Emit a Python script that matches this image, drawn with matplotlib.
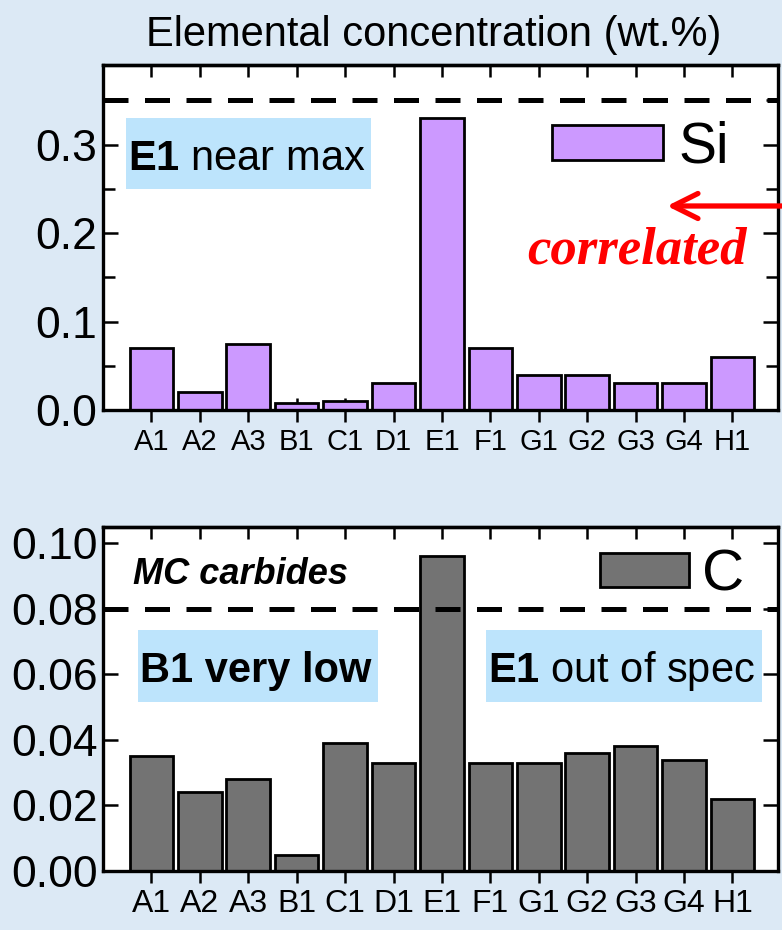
import matplotlib
matplotlib.use('Agg')
import matplotlib.pyplot as plt
from matplotlib.patches import Rectangle
from matplotlib.ticker import FormatStrFormatter, MultipleLocator

samples = ['A1', 'A2', 'A3', 'B1', 'C1', 'D1', 'E1', 'F1', 'G1', 'G2', 'G3', 'G4', 'H1']
si_values = [0.070, 0.020, 0.075, 0.008, 0.010, 0.030, 0.330, 0.070, 0.040, 0.040, 0.030, 0.030, 0.060]
c_values = [0.035, 0.024, 0.028, 0.005, 0.039, 0.033, 0.096, 0.033, 0.033, 0.036, 0.038, 0.034, 0.022]
si_limit = 0.35
c_limit = 0.08
si_ticks = [0.0, 0.1, 0.2, 0.3]
c_ticks = [0.00, 0.02, 0.04, 0.06, 0.08, 0.10]

BG = '#dce9f5'
NOTE_BG = '#bde4fc'
SI_COLOR = '#cc99ff'
C_COLOR = '#737373'

plt.rcParams['font.family'] = ['Liberation Sans', 'DejaVu Sans']
plt.rcParams['mathtext.fontset'] = 'custom'
plt.rcParams['mathtext.rm'] = 'Liberation Sans'
plt.rcParams['mathtext.bf'] = 'Liberation Sans:bold'

fig = plt.figure(figsize=(7.82, 9.30), dpi=100, facecolor=BG)
ax_si = fig.add_axes([0.1317, 0.5591, 0.8632, 0.3710])
ax_c = fig.add_axes([0.1317, 0.0634, 0.8632, 0.3703])

x = list(range(len(samples)))


def style_axes(ax, ticks, fmt, label_size):
    for s in ax.spines.values():
        s.set_linewidth(2.4)
    ax.set_xlim(-1.0, 12.94)
    ax.set_xticks(x)
    ax.set_xticklabels(samples, fontsize=label_size)
    ax.tick_params(axis='x', direction='inout', length=17.5, width=1.8, pad=4, top=False)
    ax.set_yticks(ticks)
    ax.yaxis.set_major_formatter(FormatStrFormatter(fmt))
    ax.tick_params(axis='y', which='major', direction='in', length=11, width=1.8,
                   right=True, labelsize=32, pad=4)
    ax.tick_params(axis='y', which='minor', direction='in', length=8.4, width=1.8, right=True)
    top = ax.secondary_xaxis('top')
    top.set_xticks(x)
    top.tick_params(direction='in', length=8.4, width=1.8, labeltop=False)
    top.spines['top'].set_linewidth(2.4)


# silicon
ax_si.bar(x, si_values, width=0.9, color=SI_COLOR, edgecolor='black', linewidth=2, label='Si', zorder=2)
ax_si.axhline(si_limit, color='black', lw=3.6, ls=(0, (5, 3.3)), zorder=3)
ax_si.set_ylim(0, 0.39)
style_axes(ax_si, si_ticks, '%.1f', 21)
ax_si.yaxis.set_minor_locator(MultipleLocator(0.05))
ax_si.legend(loc='center left', bbox_to_anchor=(0.665, 0.761), frameon=False, fontsize=41,
             handlelength=1.96, handleheight=0.56, handletextpad=0.26,
             borderpad=0, borderaxespad=0)

ax_si.add_patch(Rectangle((0.034, 0.640), 0.363, 0.206, transform=ax_si.transAxes,
                          facecolor=NOTE_BG, edgecolor='none', zorder=1))
ax_si.text(0.037, 0.696, r'$\mathbf{E1}$ near max', transform=ax_si.transAxes,
           fontsize=30, va='baseline', ha='left', zorder=4)
ax_si.text(0.628, 0.426, 'correlated', transform=ax_si.transAxes, color='red',
           fontsize=38, fontweight='bold', fontstyle='italic', family='Liberation Serif',
           va='baseline', ha='left', clip_on=False)
ax_si.annotate('', xy=(0.853, 0.7785), xytext=(1.0, 0.7785),
               xycoords='figure fraction', textcoords='figure fraction',
               arrowprops=dict(arrowstyle='->,head_length=1.8,head_width=0.9',
                               color='red', lw=3.8, shrinkA=0, shrinkB=0))

# carbon
ax_c.bar(x, c_values, width=0.9, color=C_COLOR, edgecolor='black', linewidth=2, label='C', zorder=2)
ax_c.axhline(c_limit, color='black', lw=3.6, ls=(0, (5, 3.3)), zorder=3)
ax_c.set_ylim(0, 0.105)
style_axes(ax_c, c_ticks, '%.2f', 23)
ax_c.legend(loc='center left', bbox_to_anchor=(0.737, 0.858), frameon=False, fontsize=42,
            handlelength=1.52, handleheight=0.52, handletextpad=0.22,
            borderpad=0, borderaxespad=0)

ax_c.text(0.044, 0.834, 'MC carbides', transform=ax_c.transAxes, fontsize=26,
          fontweight='bold', fontstyle='italic', va='baseline', ha='left')
ax_c.add_patch(Rectangle((0.052, 0.492), 0.355, 0.208, transform=ax_c.transAxes,
                         facecolor=NOTE_BG, edgecolor='none', zorder=1))
ax_c.text(0.055, 0.550, 'B1 very low', transform=ax_c.transAxes, fontsize=30,
          fontweight='bold', va='baseline', ha='left', zorder=4)
ax_c.add_patch(Rectangle((0.567, 0.492), 0.409, 0.208, transform=ax_c.transAxes,
                         facecolor=NOTE_BG, edgecolor='none', zorder=1))
ax_c.text(0.571, 0.550, r'$\mathbf{E1}$ out of spec', transform=ax_c.transAxes,
          fontsize=30, va='baseline', ha='left', zorder=4)

fig.text(0.555, 0.9505, 'Elemental concentration (wt.%)', fontsize=30,
         ha='center', va='baseline')

fig.savefig('out.png', dpi=100, facecolor=BG)
